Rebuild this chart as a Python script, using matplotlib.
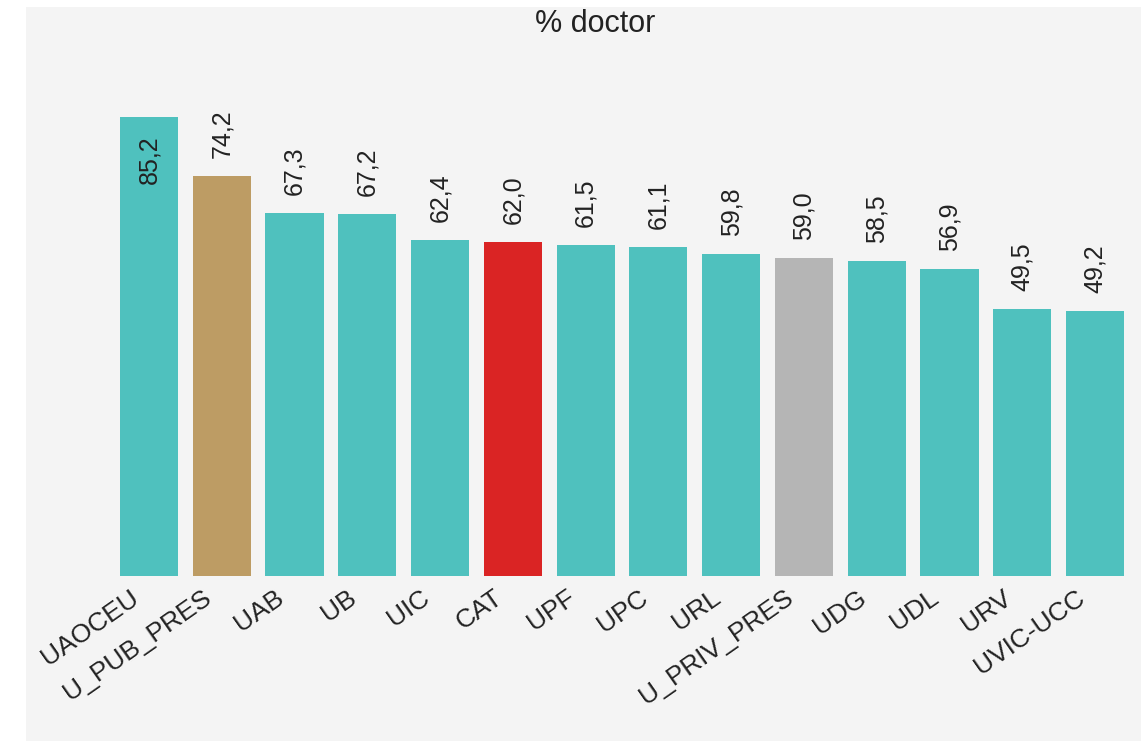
import matplotlib
matplotlib.use("Agg")
import matplotlib.pyplot as plt
import matplotlib.transforms as mtransforms
from matplotlib.patches import Rectangle
import numpy as np

plt.rcParams['font.family'] = ['Liberation Sans', 'DejaVu Sans']

universities = ['UAOCEU', 'U_PUB_PRES', 'UAB', 'UB', 'UIC', 'CAT', 'UPF', 'UPC',
                'URL', 'U_PRIV_PRES', 'UDG', 'UDL', 'URV', 'UVIC-UCC']
pct_doctor = [85.2, 74.2, 67.3, 67.2, 62.4, 62.0, 61.5, 61.1,
              59.8, 59.0, 58.5, 56.9, 49.5, 49.2]

TEAL = '#4fc1be'
special_colors = {'U_PUB_PRES': '#bd9c64', 'CAT': '#da2424', 'U_PRIV_PRES': '#b5b5b5'}
colors = [special_colors.get(u, TEAL) for u in universities]

W, H = 1143, 741
fig = plt.figure(figsize=(W / 100, H / 100), dpi=100)
fig.patch.set_facecolor('white')
# grey panel behind the chart
fig.add_artist(Rectangle((26 / W, 0), (W - 28) / W, (H - 7) / H,
                         transform=fig.transFigure, facecolor='#f4f4f4',
                         edgecolor='none', zorder=0))

ax = fig.add_axes([112.6 / W, (H - 576) / H, 1018.8 / W, 538.7 / H])
ax.set_facecolor('none')

x = np.arange(len(universities))
ax.bar(x, pct_doctor, 0.8, color=colors, zorder=2)

for xi, v in zip(x, pct_doctor):
  label = f'{v:.1f}'.replace('.', ',')
  if v > 80:
    ax.annotate(label, (xi, v), xytext=(0, -13), textcoords='offset points',
                rotation=90, ha='center', va='top', fontsize=18, color='#222222')
  else:
    ax.annotate(label, (xi, v), xytext=(0, 13), textcoords='offset points',
                rotation=90, ha='center', va='bottom', fontsize=18, color='#222222')

ax.set_xlim(-0.5, len(universities) - 0.5)
ax.set_ylim(0, 100)
ax.set_yticks([])
ax.set_xticks(x)
ax.set_xticklabels(universities, rotation=35, ha='right', va='center',
                   rotation_mode='anchor', fontsize=19, color='#222222')
ax.tick_params(axis='x', length=0, pad=14)
shift = mtransforms.ScaledTranslation(-13 / 100, 0, fig.dpi_scale_trans)
for lbl in ax.get_xticklabels():
  lbl.set_transform(lbl.get_transform() + shift)
for s in ax.spines.values():
  s.set_visible(False)

fig.text(595 / W, (H - 24) / H, '% doctor', ha='center', va='center',
         fontsize=22, color='#222222')

plt.savefig('out.png', dpi=100, facecolor=fig.get_facecolor())
